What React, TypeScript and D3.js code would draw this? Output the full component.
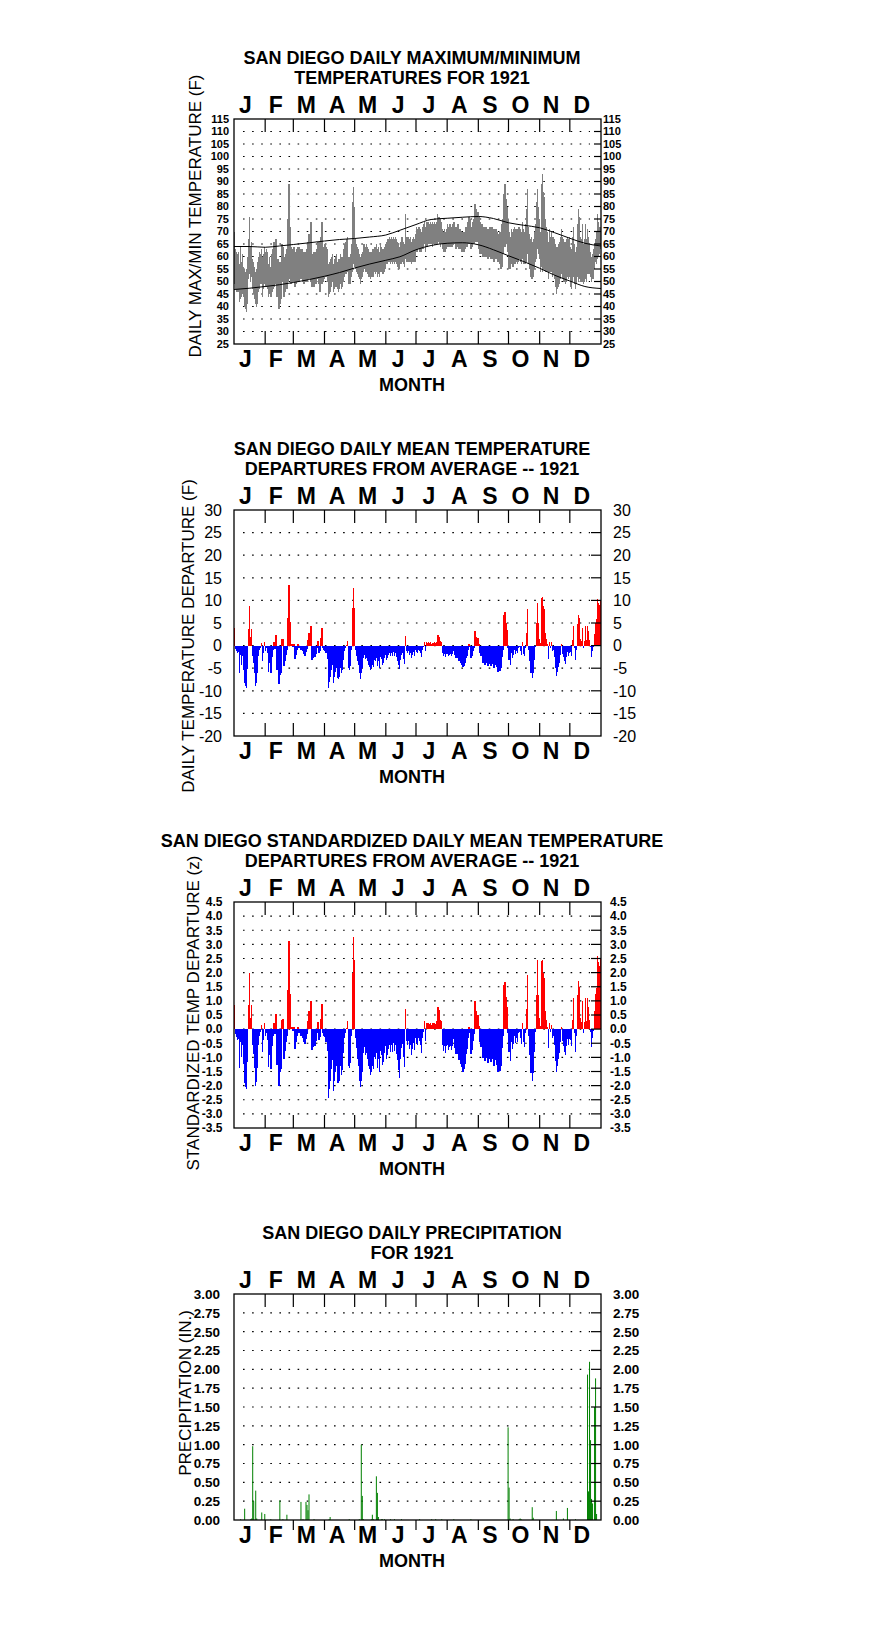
import * as d3 from "d3";
import { useEffect, useRef } from "react";

const monthLetters = ["J", "F", "M", "A", "M", "J", "J", "A", "S", "O", "N", "D"];
const monthStarts = [0, 31, 59, 90, 120, 151, 181, 212, 243, 273, 304, 334, 365];

// daily maximum / minimum (F), one line per month
const maxTemp = [
  70, 63, 62, 61, 62, 57, 64, 58, 61, 56, 55, 54, 55, 60, 67, 76, 64, 66, 59, 58, 56, 54, 55, 58, 60, 62, 61, 63, 60, 61, 64,
  62, 63, 62, 57, 60, 56, 61, 63, 66, 62, 67, 58, 59, 56, 58, 57, 65, 64, 59, 60, 61, 63, 75, 89, 72, 64, 63, 62,
  64, 61, 62, 63, 64, 64, 63, 62, 63, 62, 62, 61, 62, 63, 66, 69, 64, 74, 60, 61, 62, 61, 62, 63, 66, 63, 66, 68, 74, 64, 62,
  65, 64, 63, 57, 58, 59, 60, 61, 57, 59, 60, 61, 58, 59, 59, 61, 60, 60, 63, 65, 66, 67, 68, 60, 60, 61, 65, 82, 88, 80,
  67, 65, 64, 63, 61, 60, 61, 62, 65, 65, 64, 65, 64, 63, 62, 62, 62, 63, 63, 64, 64, 65, 63, 64, 62, 65, 64, 63, 63, 64, 65,
  66, 67, 67, 68, 67, 68, 67, 68, 67, 68, 67, 66, 65, 64, 66, 68, 68, 66, 65, 77, 68, 68, 68, 67, 68, 66, 67, 68, 67, 69,
  72, 71, 72, 72, 71, 70, 72, 73, 74, 72, 74, 74, 74, 73, 74, 73, 74, 73, 74, 73, 74, 77, 76, 76, 75, 74, 71, 70, 71, 70, 71,
  73, 72, 73, 73, 72, 73, 74, 72, 72, 71, 73, 71, 71, 70, 70, 69, 70, 70, 72, 72, 74, 76, 75, 72, 72, 74, 75, 81, 79, 78, 78,
  76, 74, 73, 73, 71, 72, 70, 72, 71, 70, 71, 72, 70, 72, 71, 70, 71, 71, 70, 69, 69, 70, 70, 73, 75, 85, 89, 83, 80, 75,
  70, 68, 71, 70, 71, 72, 71, 71, 71, 72, 72, 71, 70, 74, 71, 70, 73, 79, 87, 72, 69, 67, 68, 66, 67, 70, 73, 82, 87, 80, 75,
  70, 89, 93, 86, 84, 75, 72, 70, 66, 71, 68, 70, 68, 68, 67, 65, 64, 64, 65, 66, 68, 71, 68, 67, 66, 66, 67, 68, 67, 68,
  64, 63, 68, 72, 65, 62, 64, 73, 79, 76, 68, 67, 73, 65, 67, 73, 67, 71, 68, 65, 62, 60, 61, 63, 65, 67, 70, 77, 74, 72, 72,
];

const minTemp = [
  49, 47, 46, 46, 46, 42, 43, 44, 45, 44, 40, 39, 38, 41, 51, 53, 50, 52, 47, 45, 43, 41, 40, 41, 46, 47, 49, 49, 44, 47, 49,
  48, 48, 47, 44, 45, 44, 46, 47, 48, 49, 50, 44, 46, 39, 41, 43, 50, 51, 44, 46, 47, 47, 50, 52, 51, 49, 50, 50,
  51, 48, 49, 50, 52, 50, 51, 51, 51, 50, 49, 50, 50, 50, 51, 51, 52, 50, 48, 48, 48, 49, 49, 51, 51, 49, 46, 50, 49, 50, 51,
  52, 52, 50, 44, 45, 46, 48, 50, 46, 47, 48, 48, 47, 46, 47, 49, 47, 48, 50, 52, 53, 53, 54, 49, 49, 49, 52, 54, 57, 56,
  55, 54, 53, 52, 51, 49, 51, 52, 54, 55, 54, 54, 53, 52, 52, 51, 52, 52, 52, 54, 53, 54, 52, 53, 52, 54, 54, 53, 53, 54, 55,
  57, 57, 58, 58, 57, 58, 57, 58, 57, 58, 57, 56, 55, 55, 57, 57, 58, 57, 56, 59, 58, 58, 58, 58, 58, 57, 58, 58, 58, 58,
  62, 62, 63, 62, 62, 62, 63, 63, 65, 62, 64, 64, 65, 65, 65, 65, 64, 65, 65, 65, 65, 65, 66, 65, 64, 65, 63, 62, 62, 62, 63,
  64, 64, 64, 64, 64, 64, 65, 65, 63, 64, 65, 63, 63, 63, 62, 62, 62, 63, 64, 64, 65, 66, 65, 63, 64, 65, 65, 66, 66, 66, 66,
  63, 61, 61, 61, 60, 60, 60, 61, 60, 59, 60, 60, 59, 60, 59, 58, 59, 60, 59, 58, 58, 57, 55, 56, 61, 67, 64, 65, 65, 62,
  55, 55, 57, 56, 56, 57, 57, 58, 57, 58, 59, 58, 57, 59, 57, 57, 57, 58, 61, 57, 55, 52, 51, 51, 52, 55, 58, 59, 63, 61, 59,
  54, 56, 54, 55, 55, 54, 54, 54, 51, 54, 54, 54, 52, 53, 51, 48, 45, 47, 48, 49, 51, 53, 51, 50, 50, 49, 50, 52, 51, 52,
  48, 47, 50, 52, 49, 47, 49, 52, 50, 51, 50, 50, 50, 49, 50, 51, 50, 53, 53, 53, 52, 50, 51, 51, 55, 58, 57, 59, 60, 61, 63,
];

// long-term normal max / min, read at knots through the year
const normalDay = [0, 15, 31, 45, 59, 75, 90, 105, 120, 135, 151, 165, 181, 196, 212, 227, 243, 258, 273, 288, 304, 319, 334, 349, 365];
const normalMax = [64.0, 64.0, 63.7, 64.2, 64.8, 65.5, 66.2, 66.8, 67.2, 67.8, 68.6, 70.5, 72.8, 74.8, 75.3, 75.7, 76.0, 75.2, 73.5, 72.5, 71.5, 69.5, 67.3, 65.3, 64.2];
const normalMin = [46.8, 47.3, 48.0, 48.7, 49.6, 50.8, 52.1, 53.6, 55.4, 57.0, 58.5, 59.9, 62.7, 64.4, 65.3, 65.5, 64.7, 62.7, 60.3, 58.0, 55.3, 52.5, 50.2, 48.0, 47.2];

// daily mean temperature departure (F)
const departure = [
  3.8, -0.8, -1.2, -1.7, -1.5, -6.1, -2.0, -4.3, -2.4, -5.5, -8.3, -9.0, -9.3, -5.2, 3.7, 8.8, 1.8, 3.7, -2.4, -3.9, -6.1, -8.9, -8.2, -6.1, -2.4, -1.0, -0.5, 0.6, -3.5, -1.7, 0.9,
  -1.1, -0.5, -1.7, -5.8, -3.9, -6.0, -2.5, -1.0, 0.9, -0.8, 2.3, -5.4, -3.9, -8.6, -6.5, -6.1, 1.4, 1.5, -4.5, -3.3, -2.0, -1.0, 6.0, 13.4, 5.3, 0.4, 0.3, -0.2,
  0.3, -3.0, -2.0, -1.0, 0.3, -0.5, -0.3, -1.0, -0.6, -1.3, -1.9, -2.2, -1.5, -0.8, 1.2, 2.7, 0.5, 4.3, -3.2, -2.8, -2.5, -2.6, -1.8, -0.6, 1.1, -1.7, -1.2, 1.6, 3.8, -0.5, -1.0,
  -1.1, -1.7, -3.0, -9.3, -8.0, -6.9, -5.4, -4.2, -8.3, -6.9, -5.8, -5.0, -7.2, -7.3, -6.9, -5.0, -6.1, -5.5, -3.2, -1.2, -0.5, 0.2, 1.1, -5.0, -5.3, -4.6, -1.0, 8.3, 12.8, 8.4,
  -1.0, -2.2, -3.5, -4.3, -6.1, -7.4, -6.1, -5.0, -2.8, -2.1, -3.0, -2.8, -3.5, -4.3, -4.7, -5.4, -5.0, -4.3, -4.7, -3.2, -3.5, -2.8, -4.5, -3.5, -5.0, -2.5, -3.0, -4.2, -3.8, -2.8, -2.0,
  -3.2, -2.8, -2.1, -1.7, -2.4, -1.7, -2.4, -1.5, -2.3, -1.7, -2.6, -3.3, -4.3, -5.2, -3.2, -2.0, -1.6, -3.0, -4.0, 2.1, -1.3, -1.7, -1.3, -2.1, -1.7, -2.8, -2.1, -1.5, -2.2, -1.0,
  -1.5, -1.7, -0.9, -1.3, -1.7, -2.5, -1.0, -0.3, 0.9, -1.3, 0.7, 0.6, 0.7, 0.5, 0.7, 0.4, 0.6, 0.6, 0.7, 0.5, 0.8, 2.3, 2.3, 2.0, 1.0, 0.8, -1.7, -2.3, -1.8, -2.5, -1.8,
  -1.8, -2.4, -2.0, -1.9, -2.4, -1.9, -1.1, -2.1, -2.8, -2.8, -1.7, -3.5, -3.5, -3.9, -4.3, -4.8, -4.5, -3.9, -2.8, -2.3, -1.0, 0.3, -0.4, -2.8, -2.4, -1.3, -0.5, 3.2, 2.0, 1.3, 1.6,
  0.4, -1.7, -2.4, -2.1, -3.9, -3.0, -4.3, -2.8, -3.9, -4.6, -4.0, -3.3, -4.5, -3.2, -4.0, -5.0, -4.2, -3.5, -4.8, -5.8, -5.4, -5.6, -5.0, -2.5, -1.0, 6.8, 7.4, 5.0, 3.5, -0.5,
  -3.2, -4.4, -1.7, -2.8, -2.1, -1.0, -1.9, -1.3, -1.7, -0.6, -0.4, -1.2, -2.0, 0.9, -1.8, -2.4, -0.5, 2.8, 8.1, -1.0, -3.5, -6.1, -6.0, -7.1, -6.0, -3.2, -0.4, 5.0, 9.5, 5.0, 1.5,
  0.5, 10.6, 10.8, 8.8, 8.0, 2.8, 1.5, 0.4, -3.0, 0.9, -0.5, 0.7, -1.3, -1.0, -2.5, -5.0, -6.7, -5.8, -4.7, -3.8, -2.0, 0.3, -1.8, -2.6, -3.5, -4.0, -2.6, -1.5, -2.4, -1.6,
  -1.5, -2.4, 1.3, 4.4, -0.5, -3.2, -1.0, 4.8, 6.8, 6.0, 1.5, 1.0, 4.0, -0.6, 1.0, 4.4, 1.2, 4.4, 3.2, 1.3, -0.4, -2.5, -1.2, -0.3, 2.5, 5.0, 5.8, 10.4, 9.5, 9.0, 10.0,
];

// standardized daily mean departure (z)
const zScore = [
  0.86, -0.18, -0.27, -0.39, -0.34, -1.39, -0.45, -0.98, -0.55, -1.25, -1.89, -2.05, -2.11, -1.18, 0.84, 2.0, 0.41, 0.84, -0.55, -0.89, -1.39, -2.02, -1.86, -1.39, -0.55, -0.23, -0.11, 0.14, -0.8, -0.39, 0.2,
  -0.26, -0.12, -0.4, -1.35, -0.91, -1.4, -0.58, -0.23, 0.21, -0.19, 0.53, -1.26, -0.91, -2.0, -1.51, -1.42, 0.33, 0.35, -1.05, -0.77, -0.47, -0.23, 1.4, 3.12, 1.23, 0.09, 0.07, -0.05,
  0.07, -0.7, -0.47, -0.23, 0.07, -0.12, -0.07, -0.23, -0.14, -0.3, -0.44, -0.51, -0.35, -0.19, 0.28, 0.63, 0.12, 1.0, -0.74, -0.65, -0.58, -0.6, -0.42, -0.14, 0.26, -0.4, -0.28, 0.37, 0.88, -0.12, -0.23,
  -0.29, -0.45, -0.79, -2.45, -2.11, -1.82, -1.42, -1.11, -2.18, -1.82, -1.53, -1.32, -1.89, -1.92, -1.82, -1.32, -1.61, -1.45, -0.84, -0.32, -0.13, 0.05, 0.29, -1.32, -1.39, -1.21, -0.26, 1.97, 3.25, 2.45,
  -0.3, -0.67, -1.06, -1.3, -1.85, -2.05, -1.85, -1.52, -0.85, -0.64, -0.91, -0.85, -1.06, -1.3, -1.42, -1.64, -1.52, -1.3, -1.42, -0.97, -1.06, -0.85, -1.36, -1.06, -1.52, -0.76, -0.91, -1.27, -1.15, -0.85, -0.61,
  -1.07, -0.93, -0.7, -0.57, -0.8, -0.57, -0.8, -0.5, -0.77, -0.57, -0.87, -1.1, -1.43, -1.73, -1.07, -0.67, -0.53, -1.0, -1.33, 0.7, -0.43, -0.57, -0.43, -0.7, -0.57, -0.93, -0.7, -0.5, -0.73, -0.33,
  -0.5, -0.57, -0.3, -0.43, -0.57, -0.83, -0.33, -0.1, 0.3, -0.43, 0.23, 0.2, 0.23, 0.17, 0.23, 0.13, 0.2, 0.2, 0.23, 0.17, 0.27, 0.77, 0.77, 0.67, 0.33, 0.27, -0.57, -0.77, -0.6, -0.83, -0.6,
  -0.56, -0.75, -0.63, -0.59, -0.75, -0.59, -0.34, -0.66, -0.88, -0.88, -0.53, -1.09, -1.09, -1.22, -1.34, -1.5, -1.41, -1.22, -0.88, -0.72, -0.31, 0.09, -0.13, -0.88, -0.75, -0.41, -0.16, 1.0, 0.63, 0.41, 0.5,
  0.1, -0.45, -0.63, -0.55, -1.03, -0.79, -1.13, -0.74, -1.03, -1.21, -1.05, -0.87, -1.18, -0.84, -1.05, -1.32, -1.11, -0.92, -1.26, -1.53, -1.42, -1.47, -1.32, -0.66, -0.26, 1.55, 1.68, 1.14, 0.8, -0.13,
  -0.82, -1.13, -0.44, -0.72, -0.54, -0.26, -0.49, -0.33, -0.44, -0.15, -0.1, -0.31, -0.51, 0.23, -0.46, -0.62, -0.13, 0.72, 1.9, -0.26, -0.9, -1.56, -1.54, -1.82, -1.54, -0.82, -0.1, 1.22, 2.44, 1.22, 0.38,
  0.11, 2.41, 2.45, 2.0, 1.82, 0.64, 0.34, 0.09, -0.68, 0.2, -0.11, 0.16, -0.3, -0.23, -0.57, -1.14, -1.52, -1.32, -1.07, -0.86, -0.45, 0.07, -0.41, -0.59, -0.8, -0.91, -0.59, -0.34, -0.55, -0.36,
  -0.38, -0.6, 0.33, 1.1, -0.13, -0.8, -0.25, 1.2, 1.7, 1.5, 0.38, 0.25, 1.0, -0.15, 0.25, 1.1, 0.3, 1.1, 0.8, 0.33, -0.1, -0.63, -0.3, -0.08, 0.63, 1.25, 1.45, 2.6, 2.38, 2.25, 2.5,
];

// days with measurable precipitation (day of year, 0-based) and amounts (in.)
const precipDay = [6, 10, 16, 17, 18, 19, 21, 22, 27, 30, 36, 45, 48, 52, 66, 68, 71, 72, 73, 74, 79, 94, 95, 114, 124, 126, 127, 128, 136, 137, 138, 141, 142, 143, 146, 147, 149, 155, 159, 166, 184, 196, 200, 206, 218, 235, 272, 273, 274, 277, 283, 284, 285, 296, 297, 320, 327, 331, 339, 351, 352, 353, 354, 355, 356, 358, 359, 360];
const precipInches = [0.01, 0.15, 0.01, 0.02, 0.98, 0.25, 0.39, 0.02, 0.1, 0.08, 0.01, 0.26, 0.01, 0.07, 0.24, 0.01, 0.24, 0.2, 0.13, 0.34, 0.01, 0.01, 0.04, 0.01, 0.01, 1.0, 0.32, 0.01, 0.01, 0.07, 0.01, 0.58, 0.36, 0.04, 0.01, 0.01, 0.01, 0.01, 0.01, 0.01, 0.01, 0.01, 0.01, 0.01, 0.01, 0.01, 1.23, 0.43, 0.02, 0.01, 0.01, 0.02, 0.01, 0.17, 0.03, 0.12, 0.02, 0.16, 0.01, 1.93, 0.38, 2.1, 1.06, 0.28, 0.22, 1.5, 1.88, 0.08];

const FONT = "'Liberation Sans', Arial, Helvetica, sans-serif";
const LEFT = 234;
const RIGHT = 601;

// plain hyphen for negatives, like the original plots
const fixed = (n: number) => (v: number) => v.toFixed(n);

export default function App() {
  const ref = useRef<SVGSVGElement>(null);

  useEffect(() => {
    if (!ref.current) return;
    const svg = d3.select(ref.current);
    svg.selectAll("*").remove();

    const x = d3.scaleLinear().domain([0, 365]).range([LEFT, RIGHT]);
    const band = d3.scaleBand<number>().domain(d3.range(12)).range([LEFT, RIGHT]);

    type Panel = {
      top: number;
      bottom: number;
      y: d3.ScaleLinear<number, number>;
      ticks: number[];
      fmt: (v: number) => string;
      labelSize: number;
      labelWeight: string;
      leftEdge: number;
      rightStart: number;
      rightTick: number;
      titles: string[];
      yTitle: string;
      yTitleX: number;
      yTitleY: number;
      bottomOut?: boolean;
      draw: (g: d3.Selection<SVGGElement, unknown, null, undefined>) => void;
    };

    function panel(p: Panel) {
      const g = svg.append("g");
      const inner = p.ticks.filter(t => t !== p.y.domain()[0] && t !== p.y.domain()[1]);

      // dotted grid
      g.selectAll(".grid")
        .data(inner)
        .join("line")
        .attr("x1", 243)
        .attr("x2", 590)
        .attr("y1", d => p.y(d))
        .attr("y2", d => p.y(d))
        .attr("stroke", "#000")
        .attr("stroke-width", 1.2)
        .attr("stroke-dasharray", "1.6 7.5");

      p.draw(g);

      // box
      g.append("rect")
        .attr("x", LEFT)
        .attr("y", p.top)
        .attr("width", RIGHT - LEFT)
        .attr("height", p.bottom - p.top)
        .attr("fill", "none")
        .attr("stroke", "#000")
        .attr("stroke-width", 1.3);

      // right-side ticks
      g.selectAll(".rt")
        .data(inner)
        .join("line")
        .attr("x1", RIGHT - p.rightTick)
        .attr("x2", RIGHT)
        .attr("y1", d => p.y(d))
        .attr("y2", d => p.y(d))
        .attr("stroke", "#000")
        .attr("stroke-width", 1.2);

      // month boundary ticks
      const bounds = monthStarts.slice(1, 12);
      g.selectAll(".mt")
        .data(bounds)
        .join("line")
        .attr("x1", d => x(d))
        .attr("x2", d => x(d))
        .attr("y1", p.top)
        .attr("y2", p.top + 13)
        .attr("stroke", "#000")
        .attr("stroke-width", 1.2);
      g.selectAll(".mb")
        .data(bounds)
        .join("line")
        .attr("x1", d => x(d))
        .attr("x2", d => x(d))
        .attr("y1", p.bottom)
        .attr("y2", p.bottomOut ? p.bottom + 10 : p.bottom - 13)
        .attr("stroke", "#000")
        .attr("stroke-width", 1.2);

      // month letters, top and bottom
      [p.top - 6, p.bottom + 23].forEach(base => {
        g.selectAll(null)
          .data(monthLetters)
          .join("text")
          .attr("x", (_, i) => band(i)! + band.bandwidth() / 2 - 4)
          .attr("y", base)
          .attr("text-anchor", "middle")
          .attr("font-family", FONT)
          .attr("font-weight", "bold")
          .attr("font-size", 23)
          .text(d => d);
      });

      g.append("text")
        .attr("x", 412)
        .attr("y", p.bottom + 47)
        .attr("text-anchor", "middle")
        .attr("font-family", FONT)
        .attr("font-weight", "bold")
        .attr("font-size", 18)
        .text("MONTH");

      // value labels both sides
      const lab = (anchor: string, xp: number) =>
        g.selectAll(null)
          .data(p.ticks)
          .join("text")
          .attr("x", xp)
          .attr("y", d => p.y(d))
          .attr("dy", "0.36em")
          .attr("text-anchor", anchor)
          .attr("font-family", FONT)
          .attr("font-weight", p.labelWeight)
          .attr("font-size", p.labelSize)
          .text(d => p.fmt(d));
      lab("end", p.leftEdge);
      lab("start", p.rightStart);

      // titles
      p.titles.forEach((t, i) => {
        g.append("text")
          .attr("x", 412)
          .attr("y", p.top - 55.5 + i * 20)
          .attr("text-anchor", "middle")
          .attr("font-family", FONT)
          .attr("font-weight", "bold")
          .attr("font-size", 18)
          .text(t);
      });

      g.append("text")
        .attr("transform", `translate(${p.yTitleX},${p.yTitleY}) rotate(-90)`)
        .attr("text-anchor", "middle")
        .attr("font-family", FONT)
        .attr("font-size", 17)
        .text(p.yTitle);
    }

    const days = d3.range(365);
    const dayW = x(1) - x(0);

    // 1: max / min temperatures
    const y1 = d3.scaleLinear().domain([25, 115]).range([344, 119]);
    panel({
      top: 119,
      bottom: 344,
      y: y1,
      ticks: d3.range(25, 116, 5),
      fmt: fixed(0),
      labelSize: 11,
      labelWeight: "bold",
      leftEdge: 229,
      rightStart: 603,
      rightTick: 7,
      titles: ["SAN DIEGO DAILY MAXIMUM/MINIMUM", "TEMPERATURES FOR 1921"],
      yTitle: "DAILY MAX/MIN TEMPERATURE (F)",
      yTitleX: 201,
      yTitleY: 216,
      draw: g => {
        g.selectAll(".mm")
          .data(days)
          .join("rect")
          .attr("x", d => x(d))
          .attr("width", dayW + 0.3)
          .attr("y", d => y1(maxTemp[d]))
          .attr("height", d => y1(minTemp[d]) - y1(maxTemp[d]))
          .attr("fill", "#808080")
          .attr("shape-rendering", "crispEdges");
        const line = (vals: number[]) =>
          d3.line<number>()
            .x((_, i) => x(normalDay[i]))
            .y(d => y1(d))
            .curve(d3.curveMonotoneX)(vals);
        [normalMax, normalMin].forEach(v =>
          g.append("path").attr("d", line(v)!).attr("fill", "none").attr("stroke", "#000").attr("stroke-width", 1)
        );
      },
    });

    // 2: departures (F)
    const y2 = d3.scaleLinear().domain([-20, 30]).range([736, 510]);
    panel({
      top: 510,
      bottom: 736,
      y: y2,
      ticks: d3.range(-20, 31, 5),
      fmt: fixed(0),
      labelSize: 16,
      labelWeight: "normal",
      leftEdge: 222,
      rightStart: 613,
      rightTick: 10,
      titles: ["SAN DIEGO DAILY MEAN TEMPERATURE", "DEPARTURES FROM AVERAGE -- 1921"],
      yTitle: "DAILY TEMPERATURE DEPARTURE (F)",
      yTitleX: 194,
      yTitleY: 636,
      draw: g => {
        g.selectAll(".dep")
          .data(days)
          .join("rect")
          .attr("x", d => x(d))
          .attr("width", dayW + 0.3)
          .attr("y", d => y2(Math.max(0, departure[d])))
          .attr("height", d => Math.abs(y2(departure[d]) - y2(0)))
          .attr("fill", d => (departure[d] >= 0 ? "#ff0000" : "#0000ff"))
          .attr("shape-rendering", "crispEdges");
      },
    });

    // 3: standardized departures
    const y3 = d3.scaleLinear().domain([-3.5, 4.5]).range([1128, 902]);
    panel({
      top: 902,
      bottom: 1128,
      y: y3,
      ticks: d3.range(-3.5, 4.51, 0.5).map(v => Math.round(v * 10) / 10),
      fmt: fixed(1),
      labelSize: 12,
      labelWeight: "bold",
      leftEdge: 222.5,
      rightStart: 610,
      rightTick: 10,
      titles: ["SAN DIEGO STANDARDIZED DAILY MEAN TEMPERATURE", "DEPARTURES FROM AVERAGE -- 1921"],
      yTitle: "STANDARDIZED TEMP DEPARTURE (z)",
      yTitleX: 199,
      yTitleY: 1013,
      draw: g => {
        g.selectAll(".z")
          .data(days)
          .join("rect")
          .attr("x", d => x(d))
          .attr("width", dayW + 0.3)
          .attr("y", d => y3(Math.max(0, zScore[d])))
          .attr("height", d => Math.abs(y3(zScore[d]) - y3(0)))
          .attr("fill", d => (zScore[d] >= 0 ? "#ff0000" : "#0000ff"))
          .attr("shape-rendering", "crispEdges");
      },
    });

    // 4: precipitation
    const y4 = d3.scaleLinear().domain([0, 3]).range([1520, 1294]);
    panel({
      top: 1294,
      bottom: 1520,
      y: y4,
      ticks: d3.range(0, 3.01, 0.25),
      fmt: fixed(2),
      labelSize: 13.5,
      labelWeight: "bold",
      leftEdge: 220,
      rightStart: 613,
      rightTick: 10,
      titles: ["SAN DIEGO DAILY PRECIPITATION", "FOR 1921"],
      yTitle: "PRECIPITATION (IN.)",
      yTitleX: 190.5,
      yTitleY: 1393,
      bottomOut: true,
      draw: g => {
        g.selectAll(".pr")
          .data(precipDay.map((d, i) => ({ d, v: precipInches[i] })))
          .join("rect")
          .attr("x", p => x(p.d) + 0.1)
          .attr("width", 1)
          .attr("y", p => y4(p.v))
          .attr("height", p => y4(0) - y4(p.v))
          .attr("fill", "#008000");
      },
    });
  }, []);

  return (
    <svg
      ref={ref}
      width={876}
      height={1634}
      style={{ position: "absolute", left: 0, top: 0, background: "#fff" }}
    />
  );
}
